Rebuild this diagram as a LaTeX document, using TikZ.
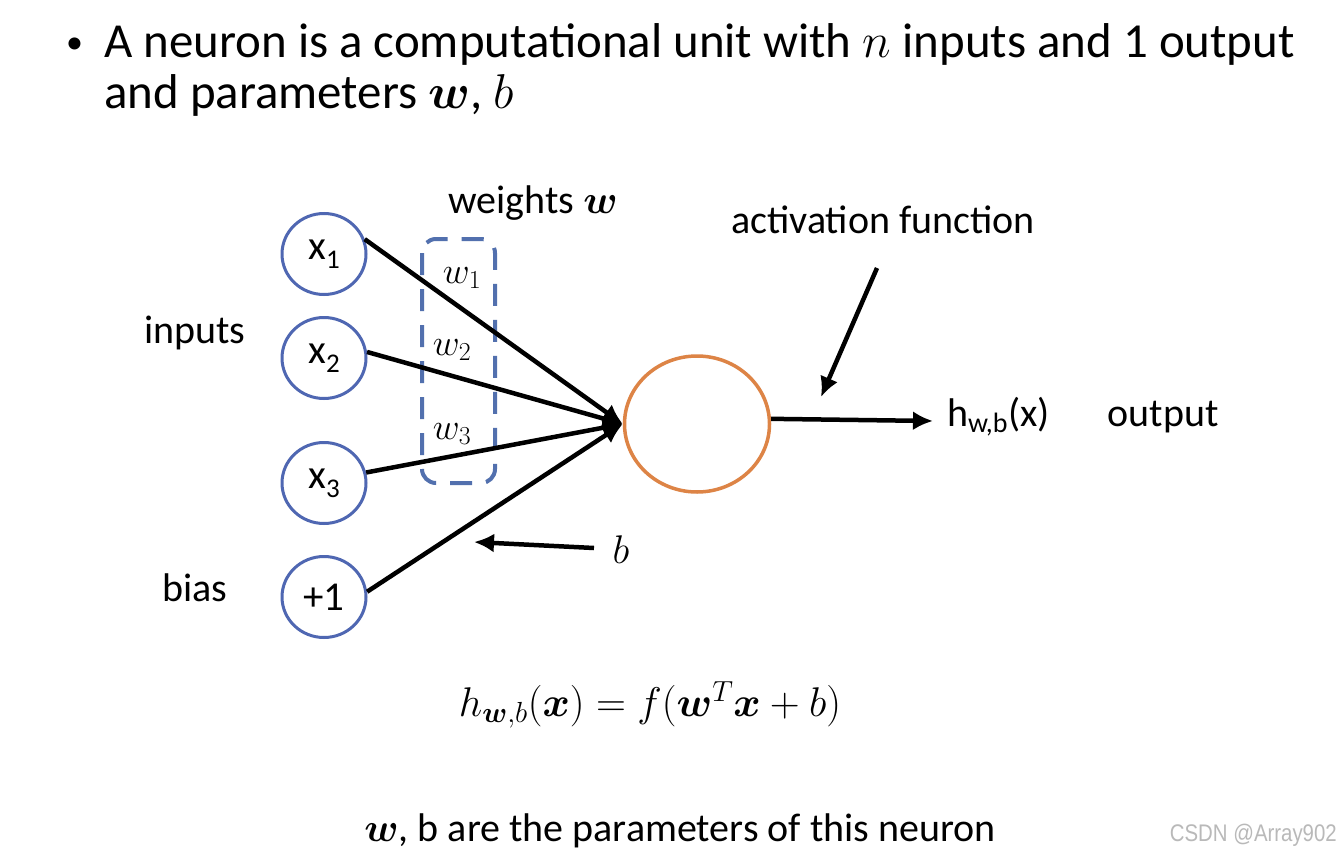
\RequirePackage{fix-cm}
\documentclass[tikz,border=0pt]{standalone}
\usepackage{amsmath,bm}
\usepackage[no-math]{fontspec}
\setmainfont{Carlito}
\newfontfamily\wmfont{Liberation Sans}
\usetikzlibrary{arrows.meta,shapes.geometric}
\definecolor{nblue}{HTML}{4F67B2}
\definecolor{dblue}{HTML}{5270AE}
\definecolor{norange}{HTML}{DD8446}
\newcommand{\mysub}[1]{\raisebox{-0.22em}{\fontsize{27}{27}\selectfont #1}}
\begin{document}
\begin{tikzpicture}[x=1pt,y=-1pt,
  incirc/.style={ellipse, draw=nblue, line width=3pt, minimum width=84pt, minimum height=81pt, inner sep=0pt, font=\fontsize{41}{41}\selectfont},
  lbl/.style={font=\fontsize{40}{48}\selectfont, inner sep=0pt},
  wlbl/.style={font=\fontsize{37}{40}\selectfont, inner sep=0pt},
  conn/.style={line width=4.5pt, -{Latex[length=20pt,width=19pt]}},
  title/.style={font=\fontsize{48.9}{52}\selectfont, inner sep=0pt, anchor=base west},
]
\fill[white] (0,0) rectangle (1341,859);
\useasboundingbox (0,0) rectangle (1341,859);

% title
\node[title, font=\fontsize{34}{34}\selectfont] (bul) at (66,54) {•};
\node[title] (t1) at (104,58) {A neuron is a computational unit with $n$ inputs and 1 output};
\node[title] (t2) at (104,108) {and parameters $\bm{w}$, $b$};

% input nodes
\node[incirc] (x1) at (324,254) {x\mysub{1}};
\node[incirc] (x2) at (324,358) {x\mysub{2}};
\node[incirc] (x3) at (324,483) {x\mysub{3}};
\node[incirc] (b1) at (324,597) {+1};

% neuron
\node[ellipse, draw=norange, line width=3.5pt, minimum width=145pt, minimum height=136pt, inner sep=0pt] (neuron) at (697,424) {};

% dashed weight box
\draw[dblue, line width=4pt, rounded corners=14pt, dash pattern=on 22pt off 14pt] (422,239) rectangle (495,483);

% connectors
\draw[conn] (x1.20) -- (neuron.west);
\draw[conn] (x2.8) -- (neuron.west);
\draw[conn] (x3.14) -- (neuron.west);
\draw[conn] (b1.7) -- (neuron.west);

% labels
\node[lbl] (inputs) at (195,333) {inputs};
\node[lbl] (bias) at (195,588) {bias};
\node[lbl] (weights) at (533,203) {weights $\bm{w}$};
\node[wlbl] (w1) at (462,278) {$w_1$};
\node[wlbl] (w2) at (452,350) {$w_2$};
\node[wlbl] (w3) at (452,434) {$w_3$};

\node[lbl] (act) at (883,220) {activation function};
\coordinate (a1) at (877,268);
\coordinate (a2) at (821,397);
\draw[conn] (a1) -- (a2);

\node[lbl, anchor=west] (hx) at (947,417) {h\textsubscript{w,b}(x)};
\draw[conn] (neuron.4) -- ([xshift=-14pt,yshift=-4pt]hx.west);
\node[lbl] (out) at (1163,417) {output};

\node[lbl] (blab) at (621,550) {$b$};
\coordinate (bs) at (594,548);
\coordinate (be) at (474,542);
\draw[conn] (bs) -- (be);

\node[lbl, font=\fontsize{41.5}{48}\selectfont] (formula) at (650,705) {$h_{\bm{w},b}(\bm{x}) = f(\bm{w}^T\bm{x}+b)$};

\node[lbl] (note) at (680,831) {$\bm{w}$, b are the parameters of this neuron};

\node[anchor=east, text=gray!55, inner sep=0pt, font=\wmfont\fontsize{24}{24}\selectfont] (wm) at (1337,835) {\scalebox{0.85}[1]{CSDN @Array902}};
\end{tikzpicture}
\end{document}
